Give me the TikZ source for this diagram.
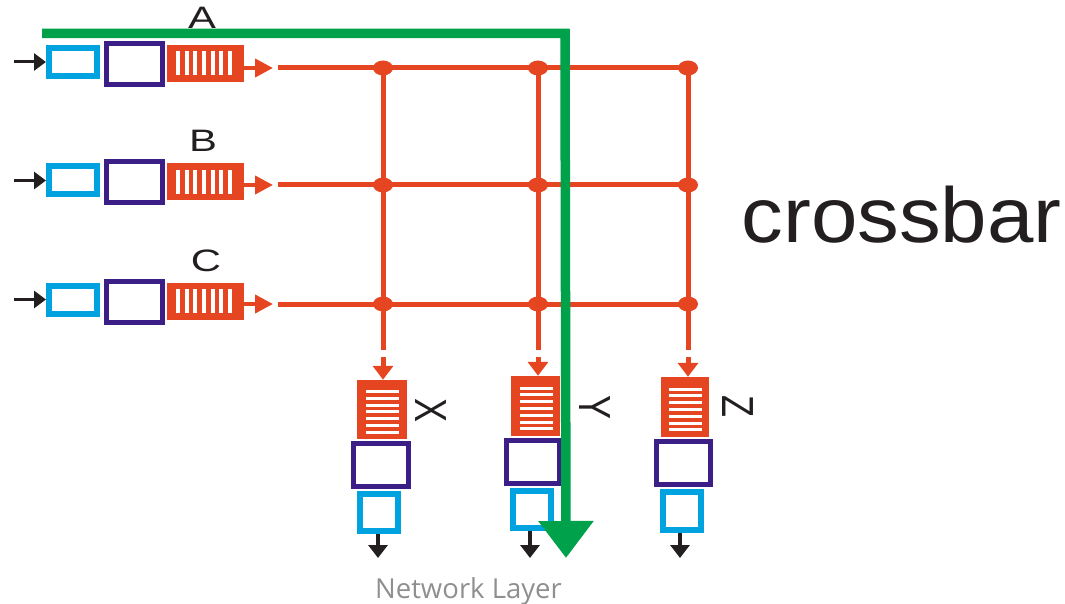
\documentclass[tikz,border=0pt]{standalone}
\usepackage{fontspec}
\setmainfont{Liberation Sans}
\newfontfamily\nlfont{Open Sans}
\usetikzlibrary{arrows.meta,shapes.geometric}
\definecolor{xred}{RGB}{230,69,34}
\definecolor{xcyan}{RGB}{0,163,224}
\definecolor{xpurple}{RGB}{59,31,135}
\definecolor{xgreen}{RGB}{0,161,75}
\definecolor{xblack}{RGB}{35,31,32}
\definecolor{xgray}{RGB}{143,143,143}
\begin{document}
\begin{tikzpicture}[x=1pt,y=-1pt,
  inbox/.style={draw=xcyan, line width=6pt, inner sep=0pt},
  bufbox/.style={draw=xpurple, line width=5pt, inner sep=0pt},
  queue/.style={fill=xred, inner sep=0pt},
  stripe/.style={fill=white},
  jdot/.style={ellipse, fill=xred, inner sep=0pt, minimum width=20pt, minimum height=15pt},
  redline/.style={draw=xred, line width=5pt},
  redarrow/.style={draw=xred, line width=4pt, -{Triangle[length=18pt,width=18pt]}},
  colarrow/.style={draw=xred, line width=5pt, -{Triangle[length=14pt,width=20pt]}},
  inarrow/.style={draw=xblack, line width=3pt, -{Triangle[length=12pt,width=17pt]}},
  outarrow/.style={draw=xblack, line width=4pt, -{Triangle[length=13pt,width=19pt]}},
  rowlabel/.style={text=xblack, font=\fontsize{31}{36}\selectfont, inner sep=0pt},
  portlabel/.style={text=xblack, font=\fontsize{45}{50}\selectfont, inner sep=0pt, rotate=-90},
  greenpath/.style={draw=xgreen, line width=9.5pt, line join=miter, -{Triangle[length=37pt,width=53pt]}}
]
\useasboundingbox (0,0) rectangle (1065,604);

% ---------- input rows ----------
\foreach \r/\dy/\ly in {a/0/68, b/118.5/185, c/237.5/304}{
  \node[inbox, minimum width=48pt, minimum height=28pt] (cy\r) at (73,62+\dy) {};
  \node[bufbox, minimum width=56pt, minimum height=41pt] (pu\r) at (134.5,64+\dy) {};
  \node[queue, minimum width=77pt, minimum height=37pt] (q\r) at (205.5,63.5+\dy) {};
  \begin{scope}[shift={(q\r.center)}]
    \foreach \i in {0,...,6}
      \fill[stripe] (-29.5+\i*8.67,-12) rectangle ++(4,24);
  \end{scope}
  \coordinate (in\r) at (14,62+\dy);
  \draw[inarrow] (in\r) -- (cy\r.west);
  \coordinate (t\r) at (273,\ly);
  \draw[redarrow] (q\r.east |- t\r) -- (t\r);
  \coordinate (s\r) at (278,\ly);
  \node[jdot] (\r1) at (383,\ly) {};
  \node[jdot] (\r2) at (538,\ly) {};
  \node[jdot] (\r3) at (688,\ly) {};
  \draw[redline] (s\r) -- (\r3.center);
}

\node[rowlabel] (la) at (202,18) {\scalebox{1.35}[1]{A}};
\node[rowlabel] (lb) at (203,141) {\scalebox{1.35}[1]{B}};
\node[rowlabel] (lc) at (206,261) {\scalebox{1.35}[1]{C}};

% ---------- output columns ----------
% X
\node[queue, minimum width=50pt, minimum height=59pt] (qx) at (382,409.5) {};
\node[bufbox, minimum width=55pt, minimum height=43pt] (px) at (381,465) {};
\node[inbox, minimum width=38pt, minimum height=37pt] (cx) at (379,512.5) {};
% Y
\node[queue, minimum width=49pt, minimum height=60pt] (qy) at (535.5,406) {};
\node[bufbox, minimum width=53pt, minimum height=43pt] (py) at (533,462) {};
\node[inbox, minimum width=38pt, minimum height=37pt] (cyy) at (532,509.5) {};
% Z
\node[queue, minimum width=48pt, minimum height=60pt] (qz) at (685,407) {};
\node[bufbox, minimum width=54pt, minimum height=43pt] (pz) at (683.5,463) {};
\node[inbox, minimum width=38pt, minimum height=38pt] (cz) at (682,511) {};

\foreach \q in {qx,qy,qz}{
  \begin{scope}[shift={(\q.center)}]
    \foreach \j in {0,...,6}
      \fill[stripe] (-16,-19.5+\j*6.83) rectangle ++(33,3);
  \end{scope}
}

% column lines
\coordinate (ex) at (383,350);
\coordinate (ey) at (538,350);
\coordinate (ez) at (688,350);
\draw[redline] (a1.center) -- (ex);
\draw[redline] (a2.center) -- (ey);
\draw[redline] (a3.center) -- (ez);
\coordinate (sx) at (383,357);
\coordinate (sy) at (538,357);
\coordinate (sz) at (688,357);
\draw[colarrow] (sx) -- (sx |- qx.north);
\draw[colarrow] (sy) -- (sy |- qy.north);
\draw[colarrow] (sz) -- (sz |- qz.north);

% output arrows
\coordinate (ox) at (378,558);
\coordinate (oy) at (530,558);
\coordinate (oz) at (680,558);
\draw[outarrow] (ox |- cx.south) -- (ox);
\draw[outarrow] (oy |- cyy.south) -- (oy);
\draw[outarrow] (oz |- cz.south) -- (oz);

\node[portlabel] (lx) at (431,411) {\scalebox{0.8}[1]{X}};
\node[portlabel] (ly) at (595,408) {\scalebox{0.8}[1]{Y}};
\node[portlabel] (lz) at (738,406) {\scalebox{0.8}[1]{Z}};

% title
\node[text=xblack, font=\fontsize{78}{90}\selectfont, anchor=base, inner sep=0pt] (title) at (901.5,242) {\scalebox{1.07}[1]{crossbar}};

\node[text=xgray, font=\nlfont\fontsize{27.5}{32}\selectfont, anchor=base, inner sep=0pt] (nl) at (468.5,598) {Network Layer};

% green path
\coordinate (g0) at (42,33.5);
\coordinate (g1) at (565,33.5);
\coordinate (g2) at (566,558);
\draw[greenpath] (g0) -- (g1) -- (g2);
\end{tikzpicture}
\end{document}
